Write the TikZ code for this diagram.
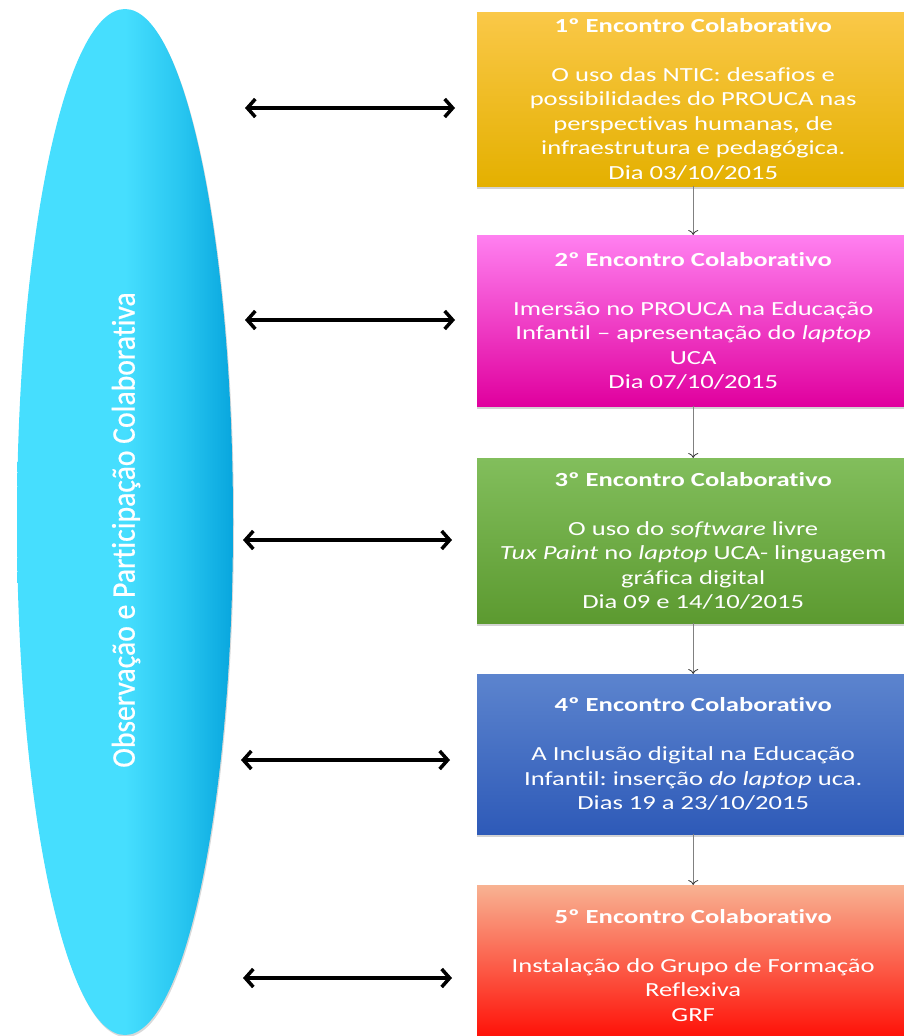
\documentclass[tikz,border=0pt]{standalone}
\usepackage{fontspec}
\setmainfont[Ligatures=NoCommon]{Carlito}
\newfontfamily\boxfont[Ligatures=NoCommon,FakeStretch=1.33]{Carlito}
\newfontfamily\condfont[Ligatures=NoCommon,FakeStretch=0.9,FakeBold=0.6]{Carlito}
\usetikzlibrary{shapes.geometric,arrows.meta,shadows}
\frenchspacing
\definecolor{y1}{RGB}{250,200,72}\definecolor{y2}{RGB}{255,192,0}\definecolor{y3}{RGB}{228,176,0}
\definecolor{m1}{RGB}{255,128,240}\definecolor{m2}{RGB}{240,60,200}\definecolor{m3}{RGB}{224,0,158}
\definecolor{g1}{RGB}{130,190,92}\definecolor{g2}{RGB}{112,172,70}\definecolor{g3}{RGB}{92,154,48}
\definecolor{b1}{RGB}{92,132,206}\definecolor{b2}{RGB}{70,112,198}\definecolor{b3}{RGB}{46,90,184}
\definecolor{r1}{RGB}{248,178,146}\definecolor{r2}{RGB}{242,100,70}\definecolor{r3}{RGB}{255,8,0}
\definecolor{c1}{RGB}{70,222,254}\definecolor{c2}{RGB}{40,198,240}\definecolor{c3}{RGB}{8,166,222}
\pgfdeclarehorizontalshading{ellshade}{100bp}{color(0bp)=(c1); color(25bp)=(c1); color(50bp)=(c1); color(63bp)=(c2); color(75bp)=(c3); color(100bp)=(c3)}
\tikzset{
  stagebox/.style={rectangle, minimum width=432pt, anchor=north west, text=white,
    align=center, font=\boxfont\fontsize{20}{24.5}\selectfont, inner sep=0pt,
    drop shadow={shadow xshift=0pt, shadow yshift=-3pt, opacity=0.35}},
  flow/.style={draw=gray, line width=0.8pt, -{To[length=5pt,width=10pt,color=black!80]}},
  link/.style={line width=3.5pt, {Straight Barb[length=8pt,width=18pt]}-{Straight Barb[length=8pt,width=18pt]}}
}
\begin{document}
\begin{tikzpicture}[x=1pt,y=-1pt]
\useasboundingbox (0,0) rectangle (903,1036);
\node[ellipse, minimum width=216pt, minimum height=1026pt, inner sep=0pt,
  shading=ellshade,
  drop shadow={shadow xshift=1pt, shadow yshift=-2pt, opacity=0.3}] (obs) at (125,522) {};
\node[rotate=90, text=white, font=\condfont\fontsize{33}{34}\selectfont] (obst) at (126,530) {Observação e Participação Colaborativa};

\node[stagebox, minimum height=174pt, top color=y1, middle color=y2, bottom color=y3] (e1) at (477,12)
 {\textbf{1º Encontro Colaborativo}\\[24.5pt] O uso das NTIC: desafios e\\ possibilidades do PROUCA nas\\ perspectivas humanas, de\\ infraestrutura e pedagógica.\\ Dia 03/10/2015};
\node[stagebox, minimum height=171pt, top color=m1, middle color=m2, bottom color=m3] (e2) at (477,235)
 {\textbf{2º Encontro Colaborativo}\\[24.5pt] Imersão no PROUCA na Educação\\ Infantil – apresentação do \textit{laptop}\\ UCA\\ Dia 07/10/2015};
\node[stagebox, minimum height=165pt, top color=g1, middle color=g2, bottom color=g3] (e3) at (477,458)
 {\textbf{3º Encontro Colaborativo}\\[24.5pt] O uso do \textit{software} livre\\ \textit{Tux Paint} no \textit{laptop} UCA- linguagem\\ gráfica digital\\ Dia 09 e 14/10/2015};
\node[stagebox, minimum height=160pt, top color=b1, middle color=b2, bottom color=b3] (e4) at (477,674)
 {\textbf{4º Encontro Colaborativo}\\[24.5pt] A Inclusão digital na Educação\\ Infantil: inserção \textit{do laptop} uca.\\ Dias 19 a 23/10/2015};
\node[stagebox, minimum height=160pt, top color=r1, middle color=r2, bottom color=r3] (e5) at (477,885)
 {\textbf{5º Encontro Colaborativo}\\[24.5pt] Instalação do Grupo de Formação\\ Reflexiva\\ GRF};

\draw[flow] (e1.south) -- (e2.north);
\draw[flow] (e2.south) -- (e3.north);
\draw[flow] (e3.south) -- (e4.north);
\draw[flow] (e4.south) -- (e5.north);

\coordinate (l1) at (245,108); \coordinate (r1) at (455,108);
\coordinate (l2) at (245,320); \coordinate (r2) at (455,320);
\coordinate (l3) at (243,540); \coordinate (r3) at (452,540);
\coordinate (l4) at (241,760); \coordinate (r4) at (450,760);
\coordinate (l5) at (243,978); \coordinate (r5) at (452,978);
\foreach \i in {1,...,5} \draw[link] (l\i) -- (r\i);
\end{tikzpicture}
\end{document}
